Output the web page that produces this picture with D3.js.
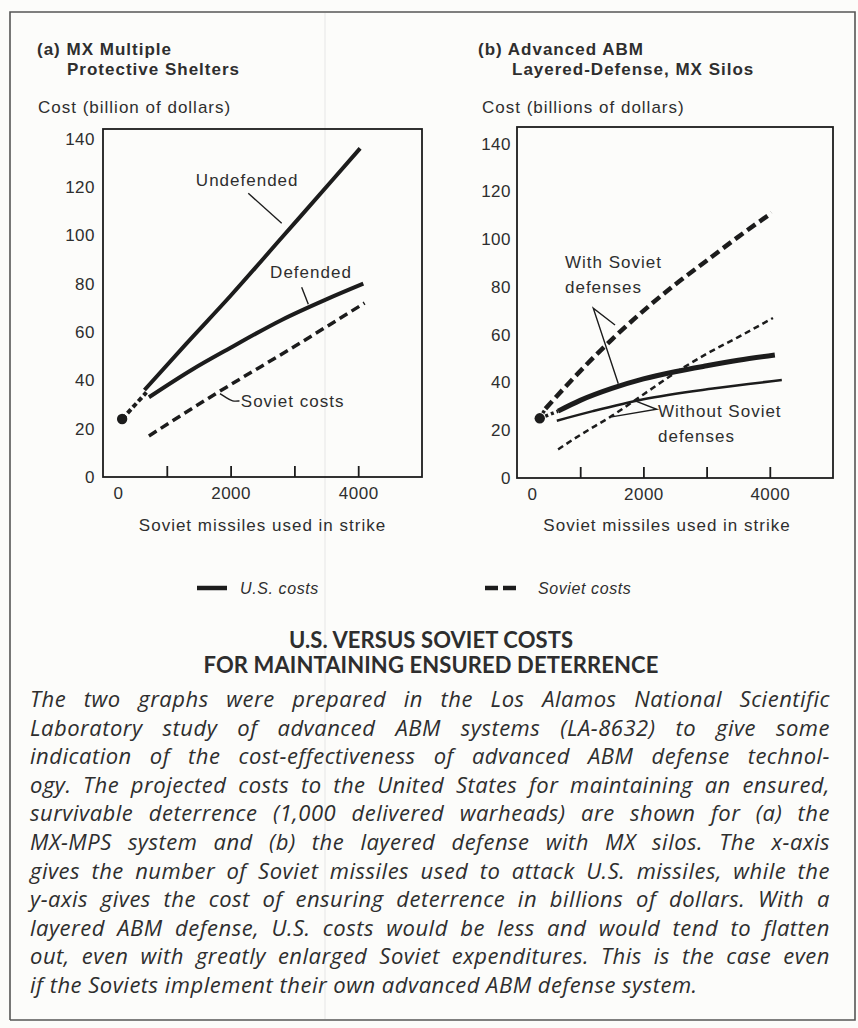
<!DOCTYPE html>
<html><head><meta charset="utf-8">
<script src="https://cdn.jsdelivr.net/npm/d3@7"></script>
<style>
body{margin:0;background:#fcfcfa;}
svg{display:block;}
</style></head><body>
<svg id="c" width="858" height="1028"></svg>
<script>
// ---------------- DATA ----------------
const xTickValues = [0, 1000, 2000, 3000, 4000];
const xTickLabels = ["0", "", "2000", "", "4000"];
const yTickValues = [0, 20, 40, 60, 80, 100, 120, 140];

// Panel (a): MX Multiple Protective Shelters  [missiles, billion $]
const dotA = [300, 24];
const undefendedA = [[650,36],[1300,55],[2000,75],[2800,99],[3600,123],[4030,136]];
const defendedA   = [[720,33],[1400,44.5],[2000,53.5],[2800,65],[3500,73.5],[4080,80]];
const sovietA     = [[720,17],[1800,35],[3000,54],[4100,72]];

// Panel (b): Advanced ABM Layered-Defense, MX Silos
const dotB = [360, 25];
const usWithB      = [[650,28],[1000,32.5],[1500,37.5],[2000,41.5],[2500,44.5],[3000,47],[3500,49.3],[4080,51.5]];
const usWithoutB   = [[630,24],[1200,28],[2000,33],[3100,37.5],[4190,41]];
const sovWithB     = [[450,29],[900,42],[1500,58],[2000,70],[2500,81],[3000,91],[3500,101],[4030,111]];
const sovWithoutB  = [[650,12],[1000,18],[1500,26],[2000,35],[2500,44],[3000,52],[3500,59],[4050,67]];

const captionLines = [
 "The two graphs were prepared in the Los Alamos National Scientific",
 "Laboratory study of advanced ABM systems (LA-8632) to give some",
 "indication of the cost-effectiveness of advanced ABM defense technol-",
 "ogy. The projected costs to the United States for maintaining an ensured,",
 "survivable deterrence (1,000 delivered warheads) are shown for (a) the",
 "MX-MPS system and (b) the layered defense with MX silos. The x-axis",
 "gives the number of Soviet missiles used to attack U.S. missiles, while the",
 "y-axis gives the cost of ensuring deterrence in billions of dollars. With a",
 "layered ABM defense, U.S. costs would be less and would tend to flatten",
 "out, even with greatly enlarged Soviet expenditures. This is the case even",
 "if the Soviets implement their own advanced ABM defense system."
];
const titleLines = ["U.S. VERSUS SOVIET COSTS", "FOR MAINTAINING ENSURED DETERRENCE"];

// ---------------- DRAWING ----------------
const svg = d3.select("#c");
const INK = "#1c1c1c", TXT = "#2e2e2e";
const SANS = "'Liberation Sans', Arial, sans-serif";

// outer frame
svg.append("path").attr("d","M10,1020 V12 H855 V1020 H10")
  .attr("fill","none").attr("stroke","#555").attr("stroke-width",1.6);
// fold artifact
svg.append("line").attr("x1",325).attr("x2",325).attr("y1",13).attr("y2",1019)
  .attr("stroke","#e6e6e6").attr("stroke-width",1);

function txt(x,y,s,opts={}){
  return svg.append("text").attr("x",x).attr("y",y).text(s)
    .attr("font-family",opts.family||SANS).attr("font-size",opts.size||17)
    .attr("font-weight",opts.weight||"normal").attr("font-style",opts.style||"normal")
    .attr("letter-spacing",opts.ls!=null?opts.ls:1).attr("fill",TXT)
    .attr("text-anchor",opts.anchor||"start");
}

function panel(cfg){
  const x = d3.scaleLinear().domain([0,5000]).range([cfg.left,cfg.right]);
  const y = d3.scaleLinear().domain([0,cfg.ymax]).range([cfg.bottom,cfg.top]);
  const g = svg.append("g");

  g.append("rect").attr("x",cfg.left).attr("y",cfg.top)
    .attr("width",cfg.right-cfg.left).attr("height",cfg.bottom-cfg.top)
    .attr("fill","none").attr("stroke",INK).attr("stroke-width",1.8);

  const xa = g.append("g").attr("transform",`translate(0,${cfg.bottom})`)
    .call(d3.axisBottom(x).tickValues(xTickValues).tickFormat((d,i)=>xTickLabels[i])
      .tickSize(-11).tickSizeOuter(0).tickPadding(10));
  xa.select(".domain").remove();
  xa.selectAll(".tick line").attr("stroke",INK).attr("stroke-width",1.8)
    .filter(d=>d===0).remove();
  xa.selectAll(".tick text").attr("font-family",SANS).attr("font-size",17)
    .attr("letter-spacing",0.5).attr("fill",TXT)
    .attr("dx",d=>d===0?15:0);

  const ya = g.append("g").attr("transform",`translate(${cfg.left},0)`)
    .call(d3.axisLeft(y).tickValues(yTickValues).tickSize(0).tickPadding(cfg.ypad));
  ya.select(".domain").remove();
  ya.selectAll(".tick text").attr("font-family",SANS).attr("font-size",17)
    .attr("letter-spacing",0.5).attr("fill",TXT);

  txt(cfg.t1x,55,cfg.title1,{weight:"bold"});
  txt(cfg.t2x,75,cfg.title2,{weight:"bold"});
  txt(cfg.cx,113,cfg.ylabel);
  txt((cfg.left+cfg.right)/2+ cfg.xtOff,531,"Soviet missiles used in strike",{anchor:"middle"});

  const line = d3.line().x(d=>x(d[0])).y(d=>y(d[1])).curve(d3.curveMonotoneX);
  cfg.series.forEach(s=>{
    g.append("path").datum(s.data).attr("d",line).attr("fill","none")
      .attr("stroke",INK).attr("stroke-width",s.w)
      .attr("stroke-dasharray",s.dash||null).attr("stroke-linecap","butt");
  });
  cfg.connectors.forEach(c=>{
    g.append("path").datum([cfg.dot,c]).attr("d",d3.line().x(d=>x(d[0])).y(d=>y(d[1])))
      .attr("stroke",INK).attr("stroke-width",cfg.connW).attr("stroke-dasharray",cfg.connDash)
      .attr("fill","none");
  });
  g.append("circle").attr("cx",x(cfg.dot[0])).attr("cy",y(cfg.dot[1])).attr("r",5.2).attr("fill",INK);

  cfg.ann.forEach(a=>{
    a.lines.forEach((s,i)=>{
      txt(x(a.x), y(a.y)+i*25, s, {anchor:a.anchor});
    });
    const pl = d3.line().x(d=>x(d[0])).y(d=>y(d[1]));
    if(a.curve) pl.curve(d3.curveBasis);
    g.append("path").datum(a.ptr).attr("d",pl).attr("fill","none")
      .attr("stroke",INK).attr("stroke-width",1.4);
  });
}

panel({
  left:103,right:422,top:129,bottom:477,ymax:144,ypad:8,
  t1x:37,t2x:67,cx:38,xtOff:0,
  title1:"(a) MX Multiple",title2:"Protective Shelters",
  ylabel:"Cost (billion of dollars)",
  dot:dotA, connW:4, connDash:"5,3",
  connectors:[[680,35]],
  series:[
    {data:undefendedA,w:4},
    {data:defendedA,w:4},
    {data:sovietA,w:3.5,dash:"9,5"}
  ],
  ann:[
    {lines:["Undefended"],x:2260,y:120.4,anchor:"middle",ptr:[[2277,117.4],[2801,105]]},
    {lines:["Defended"],x:3260,y:82.3,anchor:"middle",ptr:[[3114,78.5],[3218,71.5]]},
    {lines:["Soviet costs"],x:2160,y:29,anchor:"start",curve:true,
      ptr:[[1834,34.5],[1930,32.8],[2030,31.2],[2140,31.5]]}
  ]
});

panel({
  left:517,right:833,top:127,bottom:478,ymax:147,ypad:6,
  t1x:478,t2x:512,cx:482,xtOff:-8,
  title1:"(b)  Advanced ABM",title2:"Layered-Defense, MX Silos",
  ylabel:"Cost (billions of dollars)",
  dot:dotB, connW:3.5, connDash:"3,3",
  connectors:[[450,29],[650,28]],
  series:[
    {data:sovWithB,w:4.5,dash:"10,5"},
    {data:sovWithoutB,w:2.5,dash:"6,4"},
    {data:usWithB,w:5},
    {data:usWithoutB,w:2.5}
  ],
  ann:[
    {lines:["With Soviet","defenses"],x:759,y:87.9,anchor:"start",
      ptr:[[1551,64.1],[1207,71.1],[1603,39.5]]},
    {lines:["Without Soviet","defenses"],x:2231,y:25.5,anchor:"start",
      ptr:[[1870,32.3],[2210,28.8],[1498,25.6]]}
  ]
});

// legend
svg.append("line").attr("x1",197).attr("x2",227).attr("y1",588).attr("y2",588)
  .attr("stroke",INK).attr("stroke-width",4.5);
txt(240,594,"U.S. costs",{style:"italic",size:16,ls:0.6});
svg.append("line").attr("x1",485).attr("x2",517).attr("y1",588).attr("y2",588)
  .attr("stroke",INK).attr("stroke-width",4.5).attr("stroke-dasharray","13,5");
txt(538,594,"Soviet costs",{style:"italic",size:16,ls:0.6});

// title
titleLines.forEach((s,i)=>{
  txt(431,648+i*25,s,{family:"Lato, 'Open Sans', sans-serif",weight:"bold",size:22,ls:0.1,anchor:"middle"});
});

// caption (justified)
const capX0=30, capX1=830, capY0=707, capStep=28.6;
const capStyle = {family:"'Open Sans', Lato, sans-serif",style:"italic",size:22,ls:0.5};
captionLines.forEach((line,i)=>{
  const yy = capY0+i*capStep;
  const t = txt(capX0,yy,"",capStyle);
  const words = line.split(" ");
  if(i===captionLines.length-1){ t.text(line); return; }
  const tmp = txt(0,-50,"",capStyle);
  const widths = words.map(w=>{tmp.text(w); return tmp.node().getComputedTextLength();});
  tmp.remove();
  let gap = (capX1-capX0-d3.sum(widths))/(words.length-1);
  if(gap < 3){
    t.text(line).attr("textLength",capX1-capX0).attr("lengthAdjust","spacingAndGlyphs");
    return;
  }
  let xx = capX0;
  words.forEach((w,j)=>{ t.append("tspan").attr("x",xx).text(w); xx += widths[j]+gap; });
});
</script>
</body></html>
